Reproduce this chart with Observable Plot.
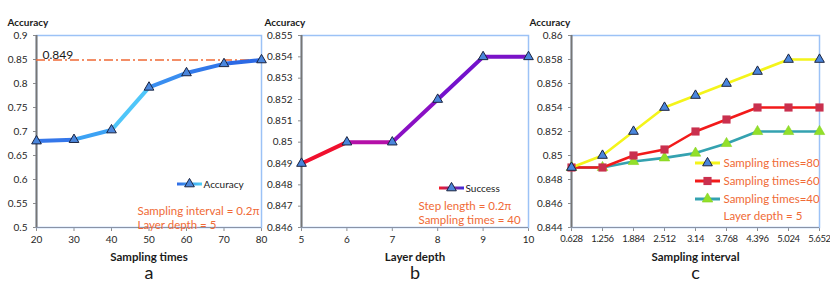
<!DOCTYPE html>
<html><head><meta charset="utf-8">
<script src="https://cdn.jsdelivr.net/npm/d3@7"></script>
<script src="https://cdn.jsdelivr.net/npm/@observablehq/plot@0.6"></script>
<style>
html,body{margin:0;padding:0;background:#fff;}
#wrap{position:relative;width:830px;height:288px;overflow:hidden;font-family:Lato,"Open Sans",sans-serif;}
#wrap svg{position:absolute;left:0;top:0;overflow:visible;}
[aria-label^="x-axis"] line, [aria-label^="y-axis"] line, [aria-label^="x-axis"] path, [aria-label^="y-axis"] path{stroke:#8c8c8c;}
#pc [aria-label^="x-axis"] text{font-size:9.5px;letter-spacing:-0.4px;}
</style></head>
<body><div id="wrap"></div>
<script>
// ---- Panel a: accuracy vs sampling times ----
const aX = [20, 30, 40, 50, 60, 70, 80];
const aY = [0.680, 0.683, 0.703, 0.792, 0.822, 0.841, 0.849];
const aRef = 0.849;
const aYTicks = [0.5, 0.55, 0.6, 0.65, 0.7, 0.75, 0.8, 0.85, 0.9];
const aSegColors = ["#3577ea", "#3ca2f4", "#4fc6f9", "#3a8ef0", "#3179ea", "#2c69e4"];

// ---- Panel b: accuracy vs layer depth ----
const bX = [5, 6, 7, 8, 9, 10];
const bY = [0.849, 0.850, 0.850, 0.852, 0.854, 0.854];
const bYTicks = [0.846, 0.847, 0.848, 0.849, 0.85, 0.851, 0.852, 0.853, 0.854, 0.855];
const bSegColors = ["#f0102e", "#b410a8", "#8a10c4", "#7412cc", "#7a12c8"];

// ---- Panel c: accuracy vs sampling interval ----
const cX = [0.628, 1.256, 1.884, 2.512, 3.14, 3.768, 4.396, 5.024, 5.652];
const c80 = [0.849, 0.850, 0.852, 0.854, 0.855, 0.856, 0.857, 0.858, 0.858];
const c60 = [0.849, 0.849, 0.850, 0.8505, 0.852, 0.853, 0.854, 0.854, 0.854];
const c40 = [0.849, 0.849, 0.8495, 0.8498, 0.8502, 0.851, 0.852, 0.852, 0.852];
const cYTicks = [0.844, 0.846, 0.848, 0.85, 0.852, 0.854, 0.856, 0.858, 0.86];
const cSeries = ["Sampling times=80", "Sampling times=60", "Sampling times=40"];

const ORANGE = "#f06a36";
const TRI_FILL = "#4a86dc", TRI_STROKE = "#1b2440";
const fmt = d => String(+d.toFixed(4));
const W = 830, H = 288, TOP = 35, BOTTOM = 61;

function segs(xs, ys, colors) {
  return xs.slice(1).map((x, i) => ({x1: xs[i], y1: ys[i], x2: x, y2: ys[i + 1], c: colors[i]}));
}
function pts(xs, ys) { return xs.map((x, i) => ({x, y: ys[i]})); }

function frameMarks(xs, ydom) {
  return [
    Plot.frame({stroke: "#9cc2f6", strokeWidth: 1.5}),
    Plot.ruleY([ydom[0]], {stroke: "#8a93a6", strokeWidth: 1.2}),
    Plot.ruleX([xs[0]], {stroke: "#767676", strokeWidth: 2})
  ];
}
function label(txt, anchor, dx, dy, o = {}) {
  return Plot.text([txt], Object.assign({text: d => d, frameAnchor: anchor, dx, dy, textAnchor: "start", lineAnchor: "middle", fontSize: 10, fill: "#1a1a1a"}, o));
}

function base(ml, mr, xdom, xticks, ydom, yticks, marks) {
  return Plot.plot({
    width: W, height: H, marginLeft: ml, marginRight: mr, marginTop: TOP, marginBottom: BOTTOM,
    style: {fontFamily: "Lato, 'Open Sans', sans-serif", fontSize: "10px", color: "#262626", background: "transparent", overflow: "visible"},
    color: {type: "identity"},
    x: {domain: xdom, ticks: xticks, tickFormat: fmt, tickSize: 4, tickPadding: 4, label: null},
    y: {domain: ydom, ticks: yticks, tickFormat: fmt, tickSize: 3, tickPadding: 6, label: null},
    marks
  });
}

const wrap = document.getElementById("wrap");
const ANN = {fill: ORANGE, fontSize: 11.5};

// Panel a
const pa = base(36, W - 261, [20, 80], aX, [0.5, 0.9], aYTicks, [
  ...frameMarks(aX, [0.5, 0.9]),
  Plot.ruleY([aRef], {stroke: ORANGE, strokeWidth: 1.4, strokeDasharray: "9,3,2,3"}),
  Plot.link(segs(aX, aY, aSegColors), {x1: "x1", y1: "y1", x2: "x2", y2: "y2", stroke: "c", strokeWidth: 4, strokeLinecap: "round"}),
  Plot.dot(pts(aX, aY), {x: "x", y: "y", symbol: "triangle", r: 3.6, fill: TRI_FILL, stroke: TRI_STROKE, strokeWidth: 1}),
  label(String(aRef), "top-left", 6, 20, {fontSize: 12}),
  label("Accuracy", "top-left", -29, -13, {fontWeight: "bold"}),
  label("Sampling times", "bottom", 0, 30, {textAnchor: "middle", fontWeight: "bold", fontSize: 11.5}),
  label("a", "bottom", 0, 46, {textAnchor: "middle", fontSize: 18}),
  label("Accuracy", "top-left", 167, 149),
  label("Sampling interval = 0.2π", "top-left", 101, 176, ANN),
  label("Layer depth = 5", "top-left", 101, 190, ANN)
]);

// Panel b
const pb = base(301, W - 528, [5, 10], bX, [0.846, 0.855], bYTicks, [
  ...frameMarks(bX, [0.846, 0.855]),
  Plot.link(segs(bX, bY, bSegColors), {x1: "x1", y1: "y1", x2: "x2", y2: "y2", stroke: "c", strokeWidth: 4, strokeLinecap: "round"}),
  Plot.dot(pts(bX, bY), {x: "x", y: "y", symbol: "triangle", r: 3.6, fill: TRI_FILL, stroke: TRI_STROKE, strokeWidth: 1}),
  label("Accuracy", "top-left", -37, -13, {fontWeight: "bold"}),
  label("Layer depth", "bottom", 0, 30, {textAnchor: "middle", fontWeight: "bold", fontSize: 11.5}),
  label("b", "bottom", 0, 46, {textAnchor: "middle", fontSize: 18}),
  label("Success", "top-left", 164, 153),
  label("Step length = 0.2π", "top-left", 117, 171, ANN),
  label("Sampling times = 40", "top-left", 117, 185, ANN)
]);

// Panel c
const pc = base(571, W - 819, [0.628, 5.652], cX, [0.844, 0.86], cYTicks, [
  ...frameMarks(cX, [0.844, 0.86]),
  Plot.line(pts(cX, c40), {x: "x", y: "y", stroke: "#34a2b0", strokeWidth: 2.6}),
  Plot.line(pts(cX, c60), {x: "x", y: "y", stroke: "#f21a1a", strokeWidth: 2.6}),
  Plot.line(pts(cX, c80), {x: "x", y: "y", stroke: "#f4f41a", strokeWidth: 2.6}),
  Plot.dot(pts(cX, c40), {x: "x", y: "y", symbol: "triangle", r: 3.9, fill: "#92e02a", stroke: "#86d21e", strokeWidth: 0.6}),
  Plot.dot(pts(cX, c60), {x: "x", y: "y", symbol: "square", r: 4.6, fill: "#c9304e"}),
  Plot.dot(pts(cX, c80), {x: "x", y: "y", symbol: "triangle", r: 3.6, fill: TRI_FILL, stroke: TRI_STROKE, strokeWidth: 1}),
  label("Accuracy", "top-left", -42, -13, {fontWeight: "bold"}),
  label("Sampling interval", "bottom", 0, 30, {textAnchor: "middle", fontWeight: "bold", fontSize: 11.5}),
  label("c", "bottom", 0, 46, {textAnchor: "middle", fontSize: 18}),
  label(cSeries[0], "top-left", 152, 128, ANN),
  label(cSeries[1], "top-left", 152, 146, ANN),
  label(cSeries[2], "top-left", 152, 164, ANN),
  label("Layer depth = 5", "top-left", 152, 181, ANN)
]);
pc.id = "pc";

wrap.append(pa, pb, pc);

// ---- legend swatches (decorations, pixel layout) ----
function grad(svg, id, x0, x1, c0, c1) {
  const g = d3.select(svg).append("defs").append("linearGradient").attr("id", id)
    .attr("gradientUnits", "userSpaceOnUse").attr("x1", x0).attr("x2", x1).attr("y1", 0).attr("y2", 0);
  g.append("stop").attr("offset", "0%").attr("stop-color", c0);
  g.append("stop").attr("offset", "100%").attr("stop-color", c1);
}
function swatch(svg, x0, x1, y, stroke, sym, size, fill, sStroke, sw = 1) {
  const s = d3.select(svg).append("g");
  s.append("line").attr("x1", x0).attr("x2", x1).attr("y1", y).attr("y2", y).attr("stroke", stroke).attr("stroke-width", 3);
  s.append("path").attr("d", d3.symbol(sym, size)()).attr("transform", `translate(${(x0 + x1) / 2},${y})`)
    .attr("fill", fill).attr("stroke", sStroke || "none").attr("stroke-width", sw);
}
const triSize = Math.PI * 3.6 * 3.6;
grad(pa, "ga", 177, 202, "#2f6be6", "#4fd0f6");
swatch(pa, 177, 202, 184, "url(#ga)", d3.symbolTriangle, triSize, TRI_FILL, TRI_STROKE);
grad(pb, "gb", 439, 464, "#f41a26", "#3a2ae0");
swatch(pb, 439, 464, 188, "url(#gb)", d3.symbolTriangle, triSize, TRI_FILL, TRI_STROKE);
swatch(pc, 695, 720, 163, "#f4f41a", d3.symbolTriangle, triSize, TRI_FILL, TRI_STROKE);
swatch(pc, 695, 720, 181, "#f21a1a", d3.symbolSquare, Math.PI * 4.6 * 4.6, "#c9304e");
swatch(pc, 695, 720, 199, "#34a2b0", d3.symbolTriangle, Math.PI * 3.9 * 3.9, "#92e02a", "#86d21e", 0.6);
</script></body></html>
